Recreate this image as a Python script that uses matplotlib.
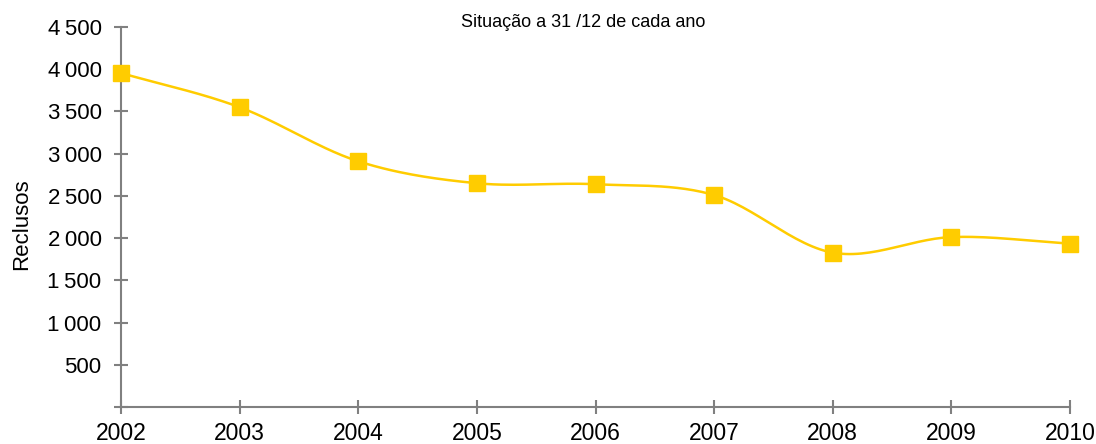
import numpy as np
import matplotlib
matplotlib.use('Agg')
import matplotlib.pyplot as plt

plt.rcParams['font.family'] = ['Liberation Sans', 'DejaVu Sans']

anos = [2002, 2003, 2004, 2005, 2006, 2007, 2008, 2009, 2010]
reclusos = [3955, 3550, 2910, 2650, 2638, 2510, 1828, 2012, 1935]
yticks = [500, 1000, 1500, 2000, 2500, 3000, 3500, 4000, 4500]
titulo = 'Situação a 31 /12 de cada ano'


def suaviza(x, y, n=30):
    # curva suavizada tipo Excel (Catmull-Rom)
    x = np.asarray(x, float)
    y = np.asarray(y, float)
    px = np.concatenate([[2 * x[0] - x[1]], x, [2 * x[-1] - x[-2]]])
    py = np.concatenate([[2 * y[0] - y[1]], y, [2 * y[-1] - y[-2]]])
    xs, ys = [], []
    t = np.linspace(0, 1, n)
    for i in range(1, len(px) - 2):
        p0, p1, p2, p3 = [np.array([px[j], py[j]]) for j in range(i - 1, i + 3)]
        tt = t[:, None]
        pt = 0.5 * ((2 * p1) + (-p0 + p2) * tt + (2 * p0 - 5 * p1 + 4 * p2 - p3) * tt ** 2
                    + (-p0 + 3 * p1 - 3 * p2 + p3) * tt ** 3)
        xs.extend(pt[:, 0])
        ys.extend(pt[:, 1])
    return xs, ys


fig = plt.figure(figsize=(10.96, 4.44), dpi=100)
ax = fig.add_axes([0.1104, 0.0833, 0.8659, 0.8559])

sx, sy = suaviza(anos, reclusos)
ax.plot(sx, sy, color='#FFCC00', lw=1.8, zorder=3)
ax.plot(anos, reclusos, 's', color='#FFCC00', ms=11, zorder=4, clip_on=False)

ax.set_xlim(2002, 2010)
ax.set_ylim(0, 4500)
ax.set_xticks(anos)
ax.set_xticklabels([str(a) for a in anos])
ax.set_yticks([0] + yticks)
ax.set_yticklabels([''] + ['{:,}'.format(v).replace(',', '\u2009') for v in yticks])

for s in ['top', 'right']:
    ax.spines[s].set_visible(False)
for s in ['left', 'bottom']:
    ax.spines[s].set_color('#808080')
    ax.spines[s].set_linewidth(1.5)
ax.tick_params(direction='inout', length=10, width=1.5, color='#808080',
               labelsize=16)
ax.tick_params(axis='y', pad=9)
ax.tick_params(axis='x', labelsize=16.5, pad=6)

fig.text(22 / 1096, 0.495, 'Reclusos', fontsize=16, rotation=90,
         ha='center', va='center')
fig.text(0.532, 0.95, titulo, fontsize=13, ha='center', va='center')

fig.savefig('out.png', dpi=100)
